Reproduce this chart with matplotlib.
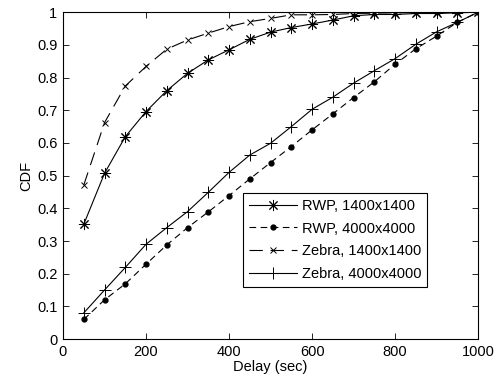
import matplotlib
matplotlib.use("Agg")
import matplotlib.pyplot as plt

delay = [50, 100, 150, 200, 250, 300, 350, 400, 450, 500,
         550, 600, 650, 700, 750, 800, 850, 900, 950, 1000]
rwp_1400 = [0.351, 0.507, 0.619, 0.696, 0.760, 0.813, 0.854, 0.885, 0.917, 0.939,
            0.953, 0.964, 0.976, 0.989, 0.993, 0.993, 0.996, 0.996, 0.998, 1.0]
rwp_4000 = [0.060, 0.120, 0.169, 0.229, 0.288, 0.341, 0.389, 0.439, 0.490, 0.540,
            0.589, 0.640, 0.689, 0.739, 0.787, 0.841, 0.888, 0.927, 0.969, 1.0]
zebra_1400 = [0.471, 0.662, 0.774, 0.834, 0.887, 0.915, 0.936, 0.956, 0.971, 0.981,
              0.992, 0.992, 0.993, 0.996, 0.997, 0.998, 0.999, 1.0, 1.0, 1.0]
zebra_4000 = [0.080, 0.150, 0.219, 0.290, 0.341, 0.390, 0.449, 0.510, 0.563, 0.599,
              0.650, 0.703, 0.740, 0.783, 0.821, 0.858, 0.902, 0.940, 0.969, 1.0]
labels = ["RWP, 1400x1400", "RWP, 4000x4000", "Zebra, 1400x1400", "Zebra, 4000x4000"]
xticks = [0, 200, 400, 600, 800, 1000]
yticks = [0, 0.1, 0.2, 0.3, 0.4, 0.5, 0.6, 0.7, 0.8, 0.9, 1]

plt.rcParams['font.family'] = ['Liberation Sans', 'DejaVu Sans']
plt.rcParams['font.size'] = 10.5

fig = plt.figure(figsize=(4.96, 3.81), dpi=100)
ax = fig.add_axes([0.127, 0.110, 0.837, 0.858])

ax.plot(delay, rwp_1400, color='black', lw=0.8, ls='-', marker=(8, 2, 0), ms=8,
        markeredgewidth=0.7, label=labels[0])
ax.plot(delay, rwp_4000, color='black', lw=0.8, ls=(0, (6, 4)), marker='o', ms=3.5,
        label=labels[1])
ax.plot(delay, zebra_1400, color='black', lw=0.8, ls=(0, (12, 7)), marker='x', ms=4,
        markeredgewidth=0.7, label=labels[2])
ax.plot(delay, zebra_4000, color='black', lw=0.8, ls='-', marker='+', ms=9,
        markeredgewidth=0.7, label=labels[3])

ax.set_xlim(0, 1000)
ax.set_ylim(0, 1)
ax.set_xticks(xticks)
ax.set_yticks(yticks)
ax.set_yticklabels(['0', '0.1', '0.2', '0.3', '0.4', '0.5', '0.6', '0.7', '0.8', '0.9', '1'])
ax.tick_params(direction='in', top=True, right=True, length=4, width=0.6, labelsize=10.5, pad=4)
for s in ax.spines.values():
    s.set_linewidth(0.8)
ax.set_xlabel('Delay (sec)', fontsize=10.5, labelpad=1)
ax.set_ylabel('CDF', fontsize=10.5, labelpad=3)

leg = ax.legend(loc='upper left', bbox_to_anchor=(0.434, 0.447), fontsize=10.5,
                frameon=True, fancybox=False, edgecolor='black', framealpha=1,
                handlelength=3.3, borderpad=0.4, labelspacing=0.6, handletextpad=0.3,
                borderaxespad=0, numpoints=1)
leg.get_frame().set_linewidth(0.8)

fig.savefig('out.png', dpi=100)
